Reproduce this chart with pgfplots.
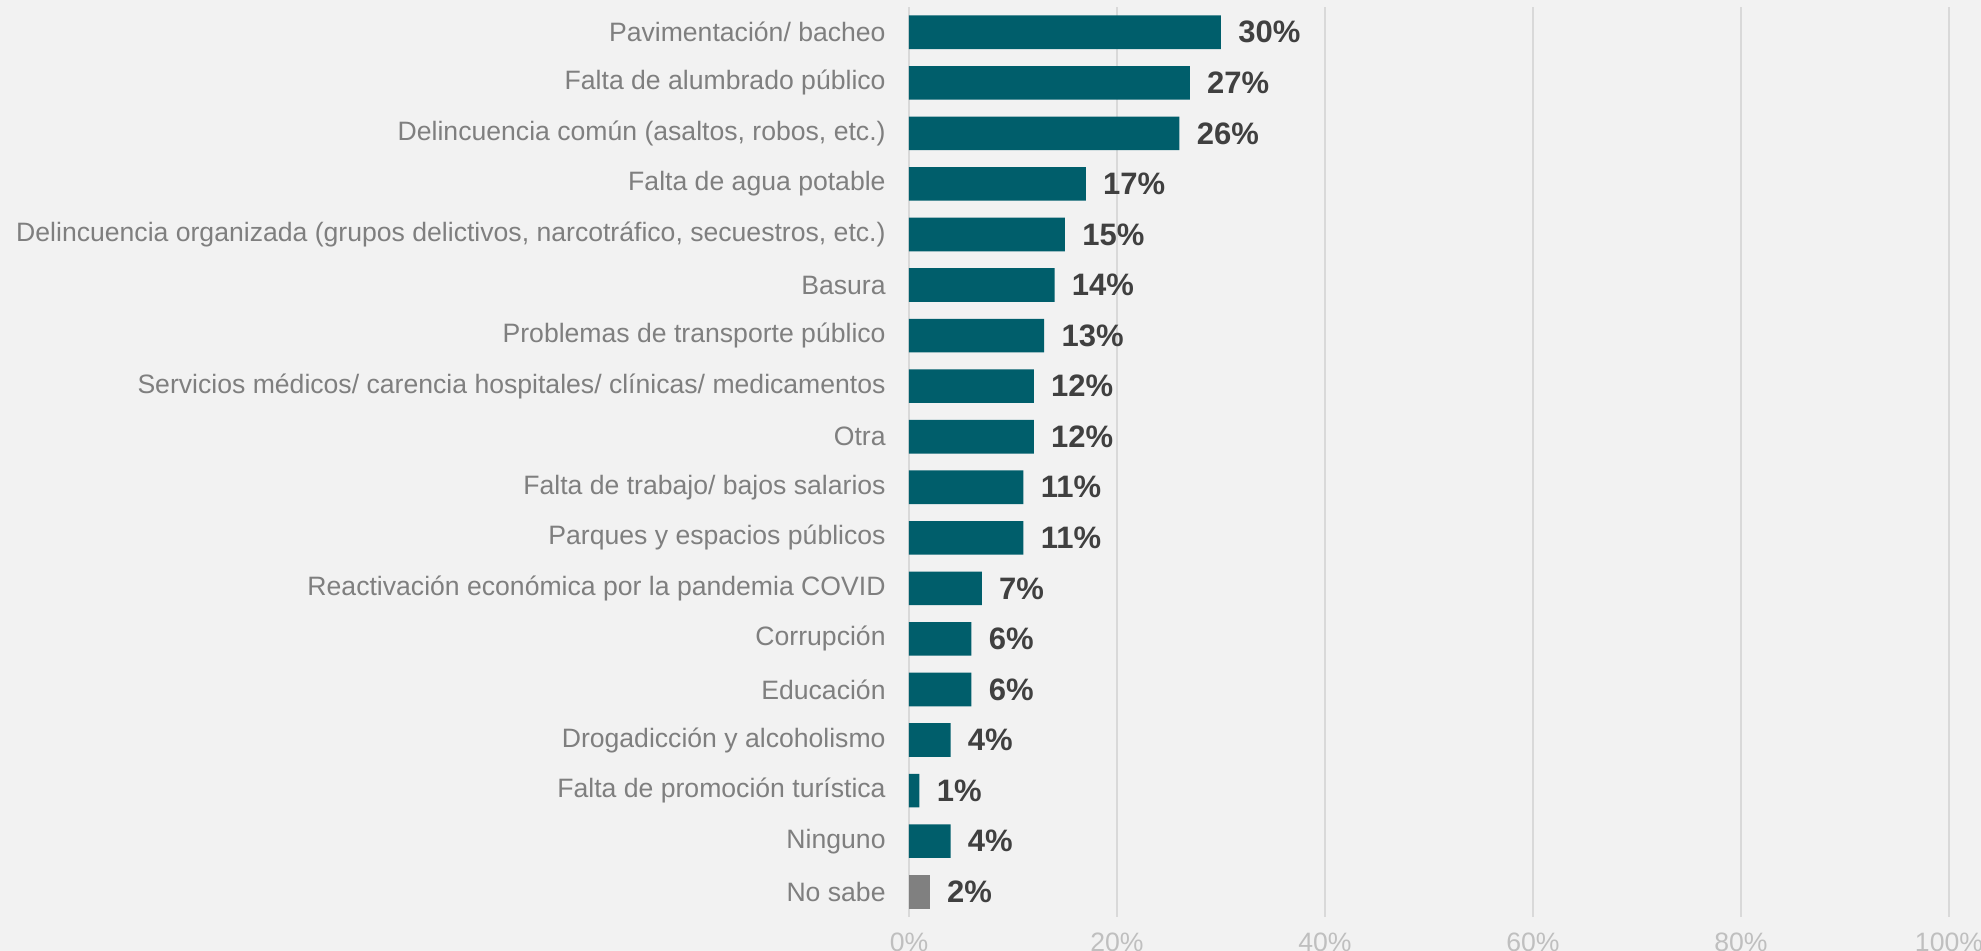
\documentclass[border=0pt]{standalone}
\usepackage{fontspec}
\setmainfont{Liberation Sans}
\usepackage{pgfplots}
\pgfplotsset{compat=1.18}

\definecolor{bgcol}{HTML}{F2F2F2}
\definecolor{barcol}{HTML}{005E6B}
\definecolor{nosabe}{HTML}{808080}
\definecolor{labcol}{HTML}{7F7F7F}
\definecolor{valcol}{HTML}{404040}
\definecolor{gridcol}{HTML}{D9D9D9}
\definecolor{tickcol}{HTML}{BFBFBF}

\begin{document}
\begin{tikzpicture}
\fill[bgcol] (-454.5pt,-17pt) rectangle (536pt,458.5pt);
\useasboundingbox (-454.5pt,-17pt) rectangle (536pt,458.5pt);
\begin{axis}[
  scale only axis,
  width=520pt, height=455pt,
  xbar, bar shift=0pt, bar width=0.665,
  xmin=0, xmax=100, ymin=-0.5, ymax=17.5,
  clip=false,
  axis line style={draw=none},
  tick style={draw=none},
  major tick length=0pt,
  xmajorgrids,
  grid style={draw=gridcol, line width=1.1pt},
  xtick={0,20,40,60,80,100},
  xticklabel={\pgfmathprintnumber{\tick}\%},
  xticklabel style={font=\fontsize{13.3pt}{15pt}\selectfont, text=tickcol, anchor=north, inner sep=0pt, yshift=-8pt},
  /pgf/number format/assume math mode=true,
  ytick={0,...,17},
  yticklabels={No sabe, Ninguno, Falta de promoción turística, Drogadicción y alcoholismo,
    Educación, Corrupción, Reactivación económica por la pandemia COVID,
    Parques y espacios públicos, Falta de trabajo/ bajos salarios, Otra,
    Servicios médicos/ carencia hospitales/ clínicas/ medicamentos,
    Problemas de transporte público, Basura,
    {Delincuencia organizada (grupos delictivos, narcotráfico, secuestros, etc.)},
    Falta de agua potable, {Delincuencia común (asaltos, robos, etc.)},
    Falta de alumbrado público, Pavimentación/ bacheo},
  yticklabel style={font=\fontsize{13.3pt}{15pt}\selectfont, text=labcol, anchor=east, inner sep=0pt, xshift=-11.5pt},
  nodes near coords={\pgfmathprintnumber{\pgfplotspointmeta}\%},
  nodes near coords style={font=\fontsize{15.5pt}{18pt}\selectfont\bfseries, text=valcol, anchor=west, inner sep=0pt, xshift=8.5pt},
]
\addplot[fill=barcol, draw=none] coordinates {
  (4,1) (1,2) (4,3) (6,4) (6,5) (7,6) (11,7) (11,8) (12,9) (12,10)
  (13,11) (14,12) (15,13) (17,14) (26,15) (27,16) (30,17)};
\addplot[fill=nosabe, draw=none] coordinates {(2,0)};
\end{axis}
\end{tikzpicture}
\end{document}
